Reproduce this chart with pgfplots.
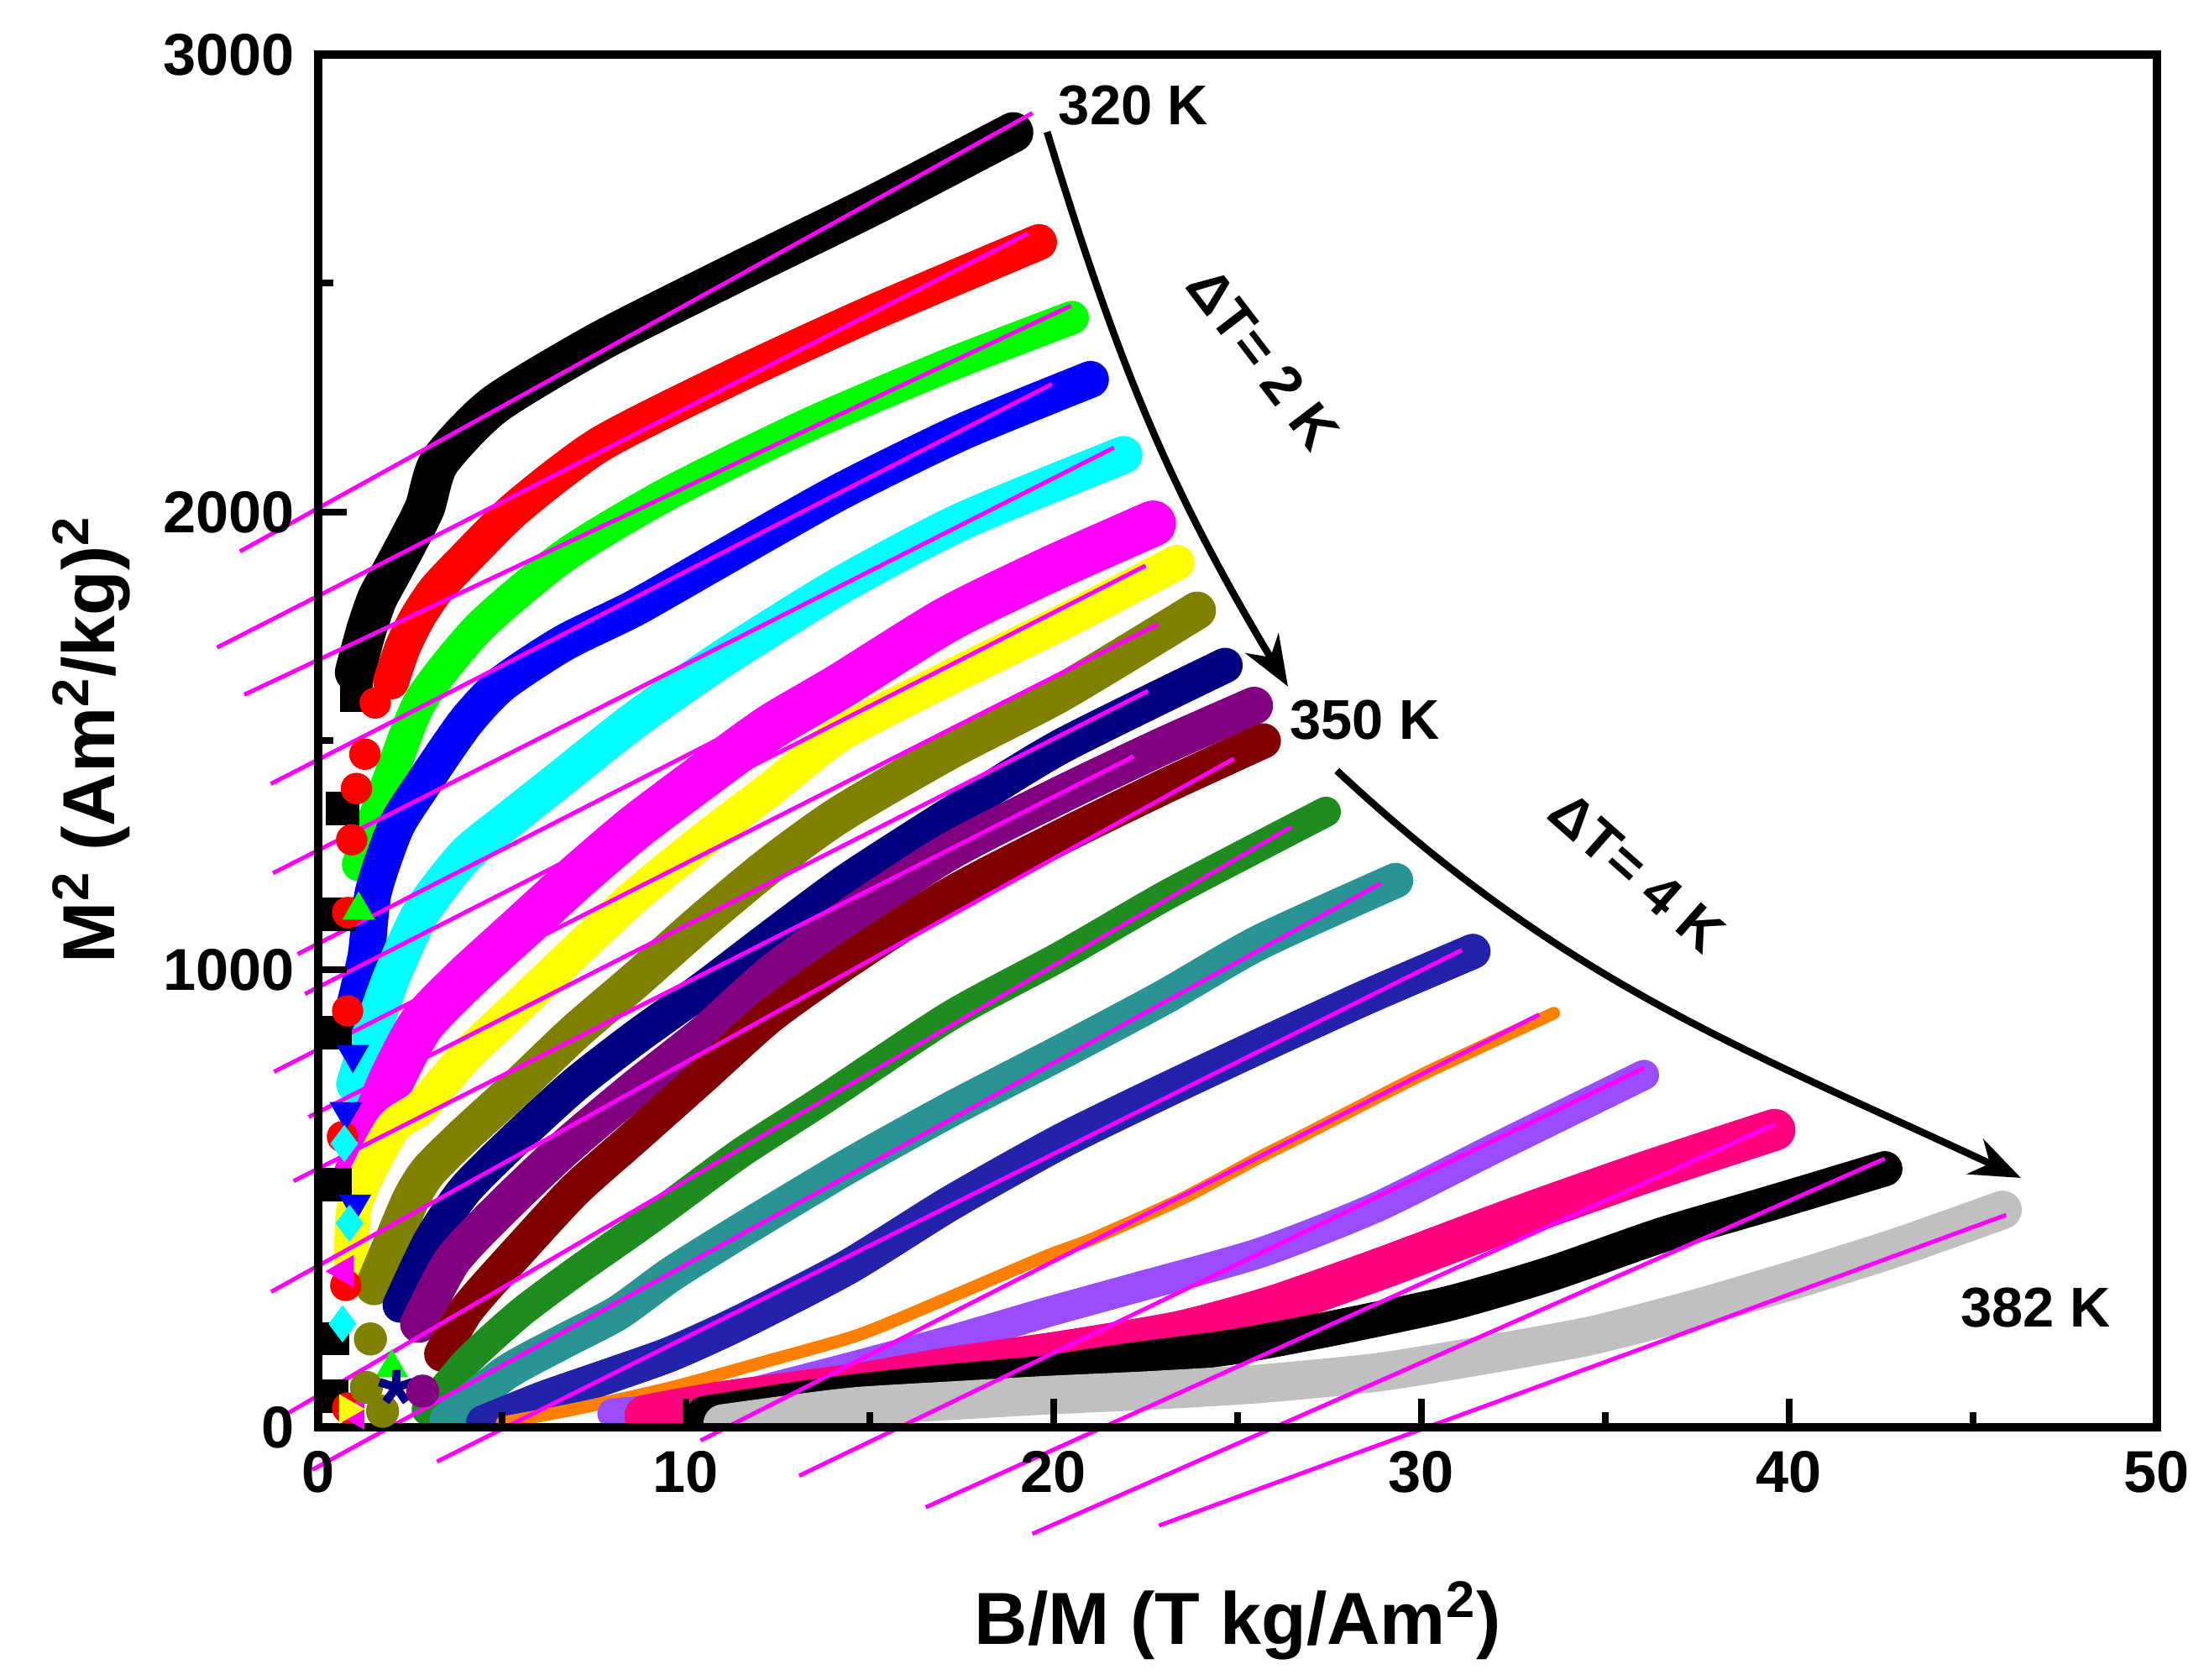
\documentclass[border=0pt]{standalone}
\usepackage{fontspec}
\setmainfont{Liberation Sans}
\usepackage{pgfplots}
\pgfplotsset{compat=1.18}
\usetikzlibrary{arrows.meta}
\definecolor{cGreen}{HTML}{00FF00}
\definecolor{cCyan}{HTML}{00FFFF}
\definecolor{cMag}{HTML}{FF00FF}
\definecolor{cYellow}{HTML}{FFFF00}
\definecolor{cOlive}{HTML}{808000}
\definecolor{cNavy}{HTML}{000080}
\definecolor{cPurple}{HTML}{800080}
\definecolor{cWine}{HTML}{800000}
\definecolor{cDkGreen}{HTML}{1E8C1E}
\definecolor{cTeal}{HTML}{2A9494}
\definecolor{cNavyB}{HTML}{2222AA}
\definecolor{cOrange}{HTML}{FF8000}
\definecolor{cViolet}{HTML}{9A4DFF}
\definecolor{cPink}{HTML}{FF0080}
\definecolor{cGray}{HTML}{C0C0C0}
\definecolor{cFit}{HTML}{FF00FF}
\pgfplotsset{band/.style={no marks, line width=#1, line cap=round, line join=round, smooth, tension=0.4},
  fit/.style={no marks, cFit, line width=0.5mm}}
\newcommand{\annfont}{\fontsize{19}{22}\selectfont\bfseries}
\begin{document}
\begin{tikzpicture}
\useasboundingbox (-37.9mm,-30.1mm) rectangle (225.2mm,170mm);
\begin{axis}[at={(0,0)}, anchor=south west, scale only axis,
  width=219mm, height=163.5mm,
  xmin=0, xmax=50, ymin=0, ymax=3000,
  clip=false, axis on top,
  axis line style={line width=1mm},
  xtick={0,10,...,50}, minor xtick={5,15,...,45},
  ytick={0,1000,2000,3000}, minor ytick={500,1500,2500},
  tick align=inside, xtick pos=bottom, ytick pos=left,
  major tick length=3.4mm, minor tick length=1.8mm,
  tick style={line width=0.8mm, black},
  tick label style={font=\fontsize{20}{24}\selectfont\bfseries},
  /pgf/number format/assume math mode=true,
  /pgf/number format/set thousands separator={},
  xticklabel style={yshift=-1.6mm},
  yticklabel style={xshift=-1.6mm},
  xlabel={B/M (T kg/Am\textsuperscript{2})},
  ylabel={M\textsuperscript{2} (Am\textsuperscript{2}/kg)\textsuperscript{2}},
  xlabel style={font=\fontsize{25}{30}\selectfont\bfseries, at={(axis description cs:0.5,-0.1407)}, anchor=center},
  ylabel style={font=\fontsize{25}{30}\selectfont\bfseries, at={(axis description cs:-0.1233,0.501)}, anchor=center},
]
% ---- data bands ----
\addplot[band=4.8mm, black] coordinates {(1.0,1650)(1.3,1740)(1.6,1810)(2.0,1870)(2.4,1930)(2.9,2010)(3.3,2110)(4.8,2235)(7.7,2375)(11.4,2525)(15.2,2675)(18.9,2830)};
\addplot[only marks, mark=square*, mark size=1.9mm, black] coordinates {(1.04,1600)(0.66,1352)(0.56,1121)(0.47,862)(0.47,530)(0.4,193)(0.37,68)};
\addplot[band=4.3mm, red] coordinates {(1.98,1630)(2.3,1705)(2.7,1770)(3.2,1830)(3.9,1890)(5.4,2010)(7.7,2150)(11.4,2300)(15.2,2440)(19.6,2590)};
\addplot[only marks, mark=*, mark size=1.8mm, red] coordinates {(1.55,1583)(1.27,1471)(1.04,1396)(0.91,1284)(0.8,1125)(0.8,910)(0.66,635)(0.75,310)(0.8,42)};
\addplot[band=4mm, cGreen] coordinates {(1.1,1230)(1.4,1300)(2.0,1430)(2.8,1590)(4.4,1750)(6.7,1905)(9.5,2040)(13.3,2190)(17.1,2320)(20.5,2425)};
\addplot[only marks, mark=triangle*, mark size=2.1mm, cGreen] coordinates {(1.1,1130)(2.0,130)};
\addplot[band=4.4mm, blue] coordinates {(0.9,890)(1.3,1030)(1.5,1170)(2.1,1310)(2.8,1400)(4.0,1540)(5.0,1625)(6.7,1715)(8.6,1790)(11,1900)(14.2,2045)(17.5,2175)(21.0,2290)};
\addplot[only marks, mark=triangle*, mark size=2.1mm, mark options={rotate=180}, blue] coordinates {(0.94,815)(0.75,690)(1.0,488)};
\addplot[band=4.5mm, cCyan] coordinates {(1.0,750)(1.4,850)(2.0,985)(2.8,1125)(4.0,1250)(5.3,1335)(6.4,1405)(8.6,1545)(11,1680)(14.2,1840)(17.5,1980)(21.9,2125)};
\addplot[only marks, mark=diamond*, mark size=2.1mm, cCyan] coordinates {(0.71,620)(0.85,446)(0.66,226)};
\addplot[band=5.5mm, cMag] coordinates {(1.0,540)(1.5,660)(2.0,760)(2.8,880)(4.0,980)(5.5,1090)(7.0,1200)(8.6,1310)(10.5,1425)(12.3,1530)(14.2,1620)(17.1,1765)(19.9,1875)(22.7,1975)};
\addplot[only marks, mark=triangle*, mark size=2.1mm, mark options={rotate=90}, cMag] coordinates {(0.71,341)(1.0,30)};
\addplot[band=4.2mm, cYellow] coordinates {(0.91,325)(1.0,488)(2.0,652)(2.8,700)(4.0,810)(5.5,925)(7.0,1040)(8.6,1160)(10.5,1285)(12.3,1395)(14.2,1515)(17.2,1640)(20.2,1758)(23.35,1890)};
\addplot[only marks, mark=triangle*, mark size=1.9mm, mark options={rotate=-90}, cYellow] coordinates {(0.8,40)};
\addplot[band=4.5mm, cOlive] coordinates {(1.52,308)(2.03,406)(2.53,500)(3.0,560)(4.0,640)(5.5,750)(7.0,865)(8.6,975)(10.5,1110)(12.3,1230)(14.2,1340)(17.2,1480)(20.2,1605)(23.9,1785)};
\addplot[only marks, mark=*, mark size=1.9mm, cOlive] coordinates {(1.31,87)(1.42,193)(1.75,35)};
\addplot[band=4.2mm, cNavy] coordinates {(2.23,267)(3.05,406)(4.0,520)(5.5,640)(7.0,750)(8.6,850)(10.5,960)(12.3,1070)(14.4,1195)(17.2,1340)(20.2,1488)(24.66,1665)};
\addplot[only marks, mark=star, mark size=2.1mm, line width=1mm, cNavy] coordinates {(2.12,87)};
\addplot[band=4.5mm, cPurple] coordinates {(2.74,226)(3.65,365)(5.0,480)(6.7,610)(8.6,739)(10.5,860)(12.3,990)(14.4,1114)(17.2,1260)(20.2,1383)(23,1490)(25.45,1577)};
\addplot[only marks, mark=*, mark size=1.9mm, cPurple] coordinates {(2.84,79)};
\addplot[band=4.2mm, cWine] coordinates {(3.36,160)(4.06,259)(5.5,390)(7.0,520)(8.6,634)(10.5,770)(12.3,900)(14.4,1020)(17.2,1165)(20.2,1290)(23,1400)(25.7,1500)};
\addplot[band=3.6mm, cDkGreen] coordinates {(2.95,38)(4.06,145)(5.5,250)(7.0,340)(8.6,430)(9.6,488)(11.5,600)(13.7,714)(17.2,900)(20.2,1030)(23,1160)(25.6,1270)(27.4,1345)};
\addplot[band=4.2mm, cTeal] coordinates {(3.5,15)(5.1,119)(6.6,185)(8.15,250)(9.61,335)(11.5,430)(14.4,570)(17.2,695)(20.2,820)(23,940)(25.6,1060)(29.3,1195)};
\addplot[band=4.2mm, cNavyB] coordinates {(4.5,10)(6.1,62)(8.0,115)(9.61,161)(11.5,230)(14.4,350)(17.2,490)(20.2,625)(23,735)(25.6,833)(28.5,940)(31.4,1040)};
\addplot[band=1.5mm, cOrange] coordinates {(5,10)(7,40)(9.61,87)(12,140)(14.7,202)(17.2,285)(19.8,374)(21.03,411)(23.5,500)(25.6,590)(26.84,640)(30,770)(33.6,905)};
\addplot[band=3.6mm, cViolet] coordinates {(8,30)(10.5,50)(12.5,90)(14.7,136)(17.2,190)(19.8,251)(22,300)(25.6,381)(28.78,481)(32,610)(36.05,770)};
\addplot[band=5mm, cPink] coordinates {(8.9,25)(11,55)(14.7,95)(17.2,130)(19.8,160)(21,175)(23.5,210)(26,265)(29,350)(32.65,460)(36,555)(39.6,650)};
\addplot[band=4.2mm, black] coordinates {(10.5,30)(12.5,55)(14.7,79)(17.2,100)(19.8,119)(22,145)(24.9,176)(27.5,215)(30.72,270)(33.5,335)(36.53,420)(39.5,490)(42.6,565)};
\addplot[band=4.6mm, cGray] coordinates {(11,8)(13,30)(14.7,46)(17.2,58)(19.8,70)(22.5,80)(25.6,95)(28.8,120)(31.5,155)(34.6,200)(37.5,260)(40.4,329)(43,395)(45.8,475)};
% hide band overflow below the x axis
\fill[white] (axis cs:-3,0) rectangle (axis cs:52,-700);
% ---- linear fits ----
\addplot[fit] coordinates {(-2.13,1914)(19.42,2872)};
\addplot[fit] coordinates {(-2.75,1704)(19.3,2609)};
\addplot[fit] coordinates {(-2.01,1601)(20.47,2451)};
\addplot[fit] coordinates {(-1.29,1406)(19.95,2280)};
\addplot[fit] coordinates {(-1.23,1211)(21.64,2141)};
\addplot[fit] coordinates {(-0.56,1034)(22.6,1985)};
\addplot[fit] coordinates {(-0.36,947)(22.5,1883)};
\addplot[fit] coordinates {(-1.2,777)(22.83,1755)};
\addplot[fit] coordinates {(-0.26,678)(22.56,1609)};
\addplot[fit] coordinates {(-0.67,538)(22.17,1466)};
\addplot[fit] coordinates {(-1.28,296)(24.9,1461)};
\addplot[fit] coordinates {(-0.88,28)(26.45,1312)};
\addplot[fit] coordinates {(-0.16,-93)(28.9,1189)};
\addplot[fit] coordinates {(3.23,-75)(31.1,1043)};
\addplot[fit] coordinates {(10.4,-29)(33.2,902)};
\addplot[fit] coordinates {(13.08,-106)(36.05,785)};
\addplot[fit] coordinates {(16.52,-175)(39.6,662)};
\addplot[fit] coordinates {(19.42,-233)(42.6,587)};
\addplot[fit] coordinates {(22.86,-215)(45.9,464)};
% ---- annotations ----
\node[font=\annfont] at (axis cs:22.17,2888) {320 K};
\node[font=\annfont] at (axis cs:28.46,1545) {350 K};
\node[font=\annfont] at (axis cs:46.7,262) {382 K};
\node[font=\annfont, rotate=-52.6] at (axis cs:25.7,2336) {ΔT= 2 K};
\node[font=\annfont, rotate=-41.4] at (axis cs:35.86,1213) {ΔT= 4 K};
\draw[line width=0.85mm, -{Stealth[length=6mm,width=4.6mm]}] (axis cs:19.82,2831) to[out=-73,in=121] (axis cs:26.37,1619);
\draw[line width=0.85mm, -{Stealth[length=6mm,width=4.6mm]}] (axis cs:27.7,1435) to[out=-43,in=155] (axis cs:46.3,545);
\end{axis}
\end{tikzpicture}
\end{document}
